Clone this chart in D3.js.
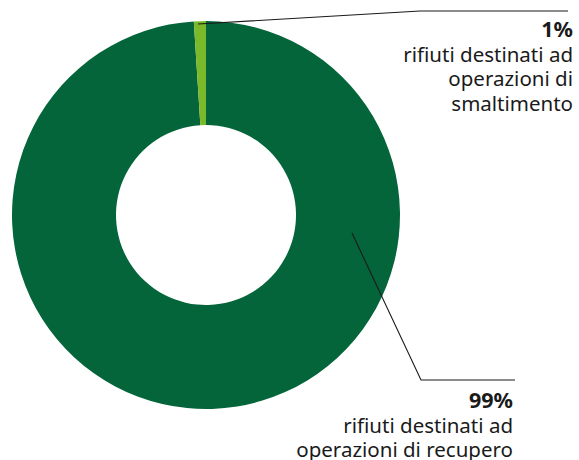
<!DOCTYPE html>
<html><head><meta charset="utf-8">
<script src="https://cdn.jsdelivr.net/npm/d3@7"></script>
<style>body{margin:0;background:#fff}svg{display:block}</style>
</head><body>
<svg id="c" width="579" height="460"></svg>
<script>
const categories = ["rifiuti destinati ad operazioni di recupero", "rifiuti destinati ad operazioni di smaltimento"];
const values = [99, 1];
const percentLabels = ["99%", "1%"];
const labelLines = [["rifiuti destinati ad", "operazioni di recupero"], ["rifiuti destinati ad", "operazioni di", "smaltimento"]];
const colors = ["#04653a", "#7ab929"];

const svg = d3.select("#c");
const cx = 206, cy = 215, R = 194, r = 90;
const g = svg.append("g").attr("transform", `translate(${cx},${cy})`);
const pie = d3.pie().sort(null).value(d => d)(values);
const arc = d3.arc().innerRadius(r).outerRadius(R);
g.selectAll("path").data(pie).enter().append("path")
  .attr("d", arc).attr("fill", (d, i) => colors[i]);

const font = "'Noto Sans', sans-serif";
const leaders = [
  [[352, 233], [421, 380], [515, 380]],
  [[198, 24], [420, 11], [568, 11]]
];
leaders.forEach(pts => {
  svg.append("path").attr("d", d3.line()(pts)).attr("fill", "none")
    .attr("stroke", "#1a1a1a").attr("stroke-width", 1.1);
});
const labelPos = [{x: 513, y: 408}, {x: 573, y: 37}];
labelPos.forEach((p, i) => {
  const t = svg.append("text").attr("text-anchor", "end").attr("font-family", font).attr("fill", "#1a1a1a");
  t.append("tspan").attr("x", p.x).attr("y", p.y).attr("font-weight", 700).attr("font-size", 21.5).text(percentLabels[i]);
  labelLines[i].forEach((l, j) => {
    t.append("tspan").attr("x", p.x).attr("y", p.y + 24.7 * (j + 1)).attr("font-size", 20.5).text(l);
  });
});
</script>
</body></html>
